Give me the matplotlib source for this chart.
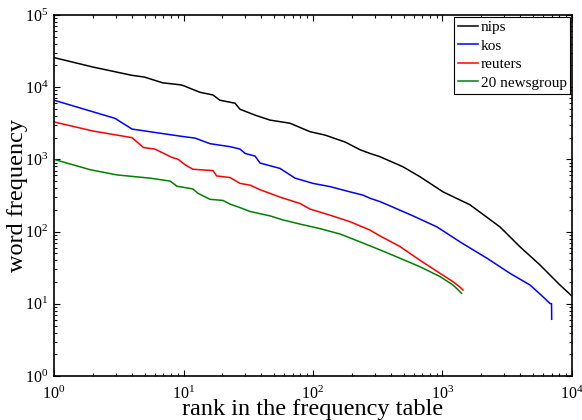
import matplotlib
matplotlib.use("Agg")
import matplotlib.pyplot as plt

plt.rcParams['font.family'] = ['Liberation Serif', 'DejaVu Serif']
plt.rcParams['mathtext.fontset'] = 'custom'
plt.rcParams['mathtext.rm'] = 'Liberation Serif'
plt.rcParams['mathtext.it'] = 'Liberation Serif:italic'

# rank / frequency
nips_rank = [1, 2, 4, 5, 6.9, 9.4, 10, 13.4, 16.9, 19.1, 25, 27.3, 35.7, 46.6, 66.4,
             94.8, 124, 177, 231, 275, 329, 495, 670, 1010, 1630, 2780, 3965, 5660,
             8070, 9900]
nips_freq = [25700, 19000, 14600, 13800, 11500, 10800, 10500, 8500, 7800, 6600, 6000,
             4950, 4100, 3500, 3170, 2420, 2170, 1740, 1360, 1210, 1090, 790, 575, 355,
             235, 116, 61.6, 34.5, 18.2, 13]

kos_rank = [1, 2.96, 4, 9.4, 12.3, 16, 22.9, 27.3, 29.9, 35.7, 39, 55.6, 72.6, 100,
            135, 193, 243, 275, 329, 393, 592, 907, 1365, 2207, 3320, 4740, 5970,
            6760, 6950, 6970]
kos_freq = [6600, 3700, 2630, 2100, 1970, 1650, 1500, 1390, 1210, 1110, 890, 750, 550,
            465, 420, 355, 320, 290, 260, 227, 165, 116, 72, 42.7, 26.4, 18.2, 12.5,
            10.1, 10, 6.1]

reuters_rank = [1, 2, 4, 4.9, 6.0, 8.1, 9.1, 10.3, 11.8, 16.9, 18, 22.9, 27.3, 32.6,
                39, 55.6, 79.4, 94.8, 135, 193, 275, 329, 470, 670, 957, 1205, 1365,
                1440]
reuters_freq = [3300, 2470, 2000, 1460, 1390, 1070, 1000, 840, 730, 700, 590, 560, 465,
                440, 380, 300, 245, 205, 169, 137, 105, 87, 62, 40, 26.4, 20.2, 17,
                15.5]

news_rank = [1, 1.9, 3.05, 5.5, 7.9, 8.9, 11.8, 12.9, 16, 20.2, 22.9, 27.3, 32.6, 46.6,
             58.6, 79.4, 113, 162, 231, 329, 470, 670, 957, 1205, 1405]
news_freq = [1000, 720, 610, 550, 500, 425, 390, 340, 280, 270, 240, 215, 190, 165, 145,
             127, 110, 92.5, 72, 55.8, 42.7, 32.6, 23.8, 18.2, 14]


def main():
    fig = plt.figure(figsize=(5.82, 4.2), dpi=100)
    ax = fig.add_axes([0.0928, 0.1048, 0.890, 0.8595])

    ax.loglog(nips_rank, nips_freq, color='black', lw=1.1, label='nips')
    ax.loglog(kos_rank, kos_freq, color='blue', lw=1.1, label='kos')
    ax.loglog(reuters_rank, reuters_freq, color='red', lw=1.1, label='reuters')
    ax.loglog(news_rank, news_freq, color='green', lw=1.1, label='20 newsgroup')

    ax.set_xlim(1, 1e4)
    ax.set_ylim(1, 1e5)
    ax.set_xlabel('rank in the frequency table', fontsize=17.5, labelpad=-3)
    ax.set_ylabel('word frequency', fontsize=17.5, labelpad=-2)

    for s in ax.spines.values():
        s.set_linewidth(1.2)
    ax.tick_params(which='both', direction='in', top=True, right=True,
                   labelsize=11.5, width=0.8)
    ax.tick_params(which='major', length=4, pad=4)
    ax.tick_params(axis='x', which='major', pad=7)
    ax.tick_params(which='minor', length=2.5)

    leg = ax.legend(loc='upper right', fontsize=11, handlelength=1.3,
                    handletextpad=0.2, labelspacing=0.32, borderpad=0.25,
                    borderaxespad=0.1, fancybox=False, framealpha=1)
    leg.get_frame().set_edgecolor('black')
    leg.get_frame().set_linewidth(0.8)

    fig.savefig('out.png', dpi=100)


if __name__ == '__main__':
    main()
